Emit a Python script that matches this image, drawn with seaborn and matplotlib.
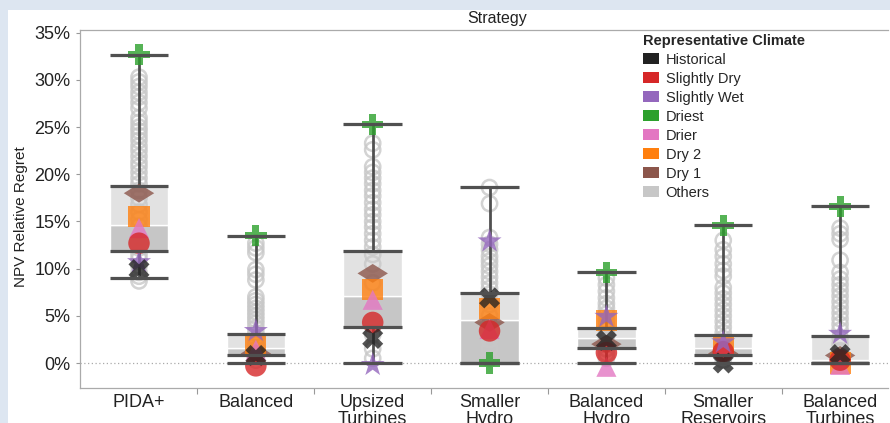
import numpy as np
import pandas as pd
import matplotlib.pyplot as plt
import seaborn as sns
from matplotlib.patches import Patch, Rectangle

# Strategies along the x axis
strategies = ["PIDA+", "Balanced", "Upsized\nTurbines", "Smaller\nHydro",
              "Balanced\nHydro", "Smaller\nReservoirs", "Balanced\nTurbines"]

# Box statistics (NPV relative regret, %)
q1 = [11.9, 0.85, 3.8, 0.0, 1.6, 0.85, 0.0]
median = [14.6, 1.6, 7.1, 4.6, 2.7, 1.6, 0.3]
q3 = [18.8, 3.1, 11.9, 7.4, 3.7, 3.0, 2.9]
whisker_lo = [9.0, 0.0, 0.0, 0.0, 0.0, 0.0, 0.0]
whisker_hi = [32.7, 13.5, 25.3, 18.7, 9.6, 14.6, 16.6]

# Representative climates, one value per strategy
historical = [9.9, 0.8, 2.6, 6.9, 2.4, 0.0, 0.9]
slightly_dry = [12.7, -0.3, 4.3, 3.4, 1.1, 1.2, 0.3]
slightly_wet = [10.7, 3.4, -0.2, 12.9, 4.9, 2.2, 3.1]
driest = [32.7, 13.5, 25.3, 0.0, 9.6, 14.6, 16.6]
drier = [14.3, 1.4, 6.7, 3.6, -0.4, 2.0, -0.2]
dry_2 = [15.5, 1.9, 7.8, 5.8, 4.5, 2.0, 0.0]
dry_1 = [18.0, 1.0, 9.5, 4.3, 2.0, 1.0, 0.8]

# Other climates (open grey circles)
others_pida = [8.7, 9.2, 9.6, 10.3, 11.0, 11.5, 12.2, 13.0, 13.8, 14.5, 15.2, 16.0,
               16.8, 17.5, 18.3, 19.0, 19.6, 20.2, 20.8, 21.3, 21.9, 22.5, 23.0,
               23.6, 24.1, 24.6, 25.0, 25.5, 26.0, 27.0, 27.6, 28.2, 28.7, 29.3,
               29.8, 30.3]
others_balanced = [0.3, 0.8, 1.4, 2.0, 2.6, 3.2, 3.7, 4.2, 4.6, 5.0, 5.4, 5.8, 6.2,
                   6.6, 7.0, 8.8, 9.4, 9.9, 11.7, 12.2, 12.7]
others_upsized = [0.5, 1.5, 3.0, 5.0, 6.0, 8.5, 10.5, 11.5, 12.3, 13.0, 13.7, 14.4,
                  15.0, 15.7, 16.3, 17.0, 17.7, 18.3, 19.0, 19.6, 20.2, 20.8, 22.6,
                  23.3]
others_smaller_hydro = [0.5, 1.5, 2.5, 4.0, 5.0, 6.2, 7.3, 7.9, 8.5, 9.1, 9.7, 10.3,
                        10.8, 11.3, 12.0, 12.6, 13.3, 16.9, 18.6]
others_balanced_hydro = [0.5, 1.0, 1.5, 2.0, 2.5, 3.0, 3.5, 4.0, 4.5, 5.2, 5.8, 6.3,
                         6.9, 7.6, 8.3, 9.0]
others_reservoirs = [0.3, 0.8, 1.3, 2.0, 2.6, 3.2, 3.8, 4.4, 5.0, 5.6, 6.2, 6.8, 7.4,
                     8.0, 9.2, 9.8, 10.5, 11.3, 12.0, 13.0]
others_turbines = [0.3, 0.8, 1.3, 2.0, 2.7, 3.5, 4.1, 4.7, 5.3, 5.9, 6.5, 7.1, 7.7,
                   8.3, 8.9, 9.6, 10.9, 13.1, 13.7, 14.3]

climate_names = ["Historical", "Slightly Dry", "Slightly Wet", "Driest", "Drier",
                 "Dry 2", "Dry 1", "Others"]
climate_colors = ["#222222", "#d62728", "#9467bd", "#2ca02c", "#e377c2", "#ff7f0e",
                  "#8c564b", "#c7c7c7"]
wide_diamond = [(-1, 0), (0, 0.62), (1, 0), (0, -0.62), (-1, 0)]
climate_markers = ["X", "o", "*", "P", "^", "s", wide_diamond]
marker_sizes = [230, 240, 330, 240, 210, 230, 480]

sns.set_theme(style="white")
plt.rcParams['font.family'] = ['Liberation Sans', 'DejaVu Sans']

fig = plt.figure(figsize=(8.9, 4.23), dpi=100)
fig.patch.set_facecolor("#dde6f1")
fig.patches.append(Rectangle((8 / 890, 0), 1, 1 - 10 / 423, transform=fig.transFigure,
                             facecolor="white", edgecolor="none", zorder=-10))
ax = fig.add_axes([80 / 890, 1 - 388 / 423, 808 / 890, 358 / 423])
ax.set_facecolor("none")

pos = np.arange(len(strategies))
box_w = 0.5

# Box: lower half darker, upper half lighter
ax.bar(pos, np.array(median) - np.array(q1), bottom=q1, width=box_w,
       color="#c6c6c6", zorder=1)
ax.bar(pos, np.array(q3) - np.array(median), bottom=median, width=box_w,
       color="#e2e2e2", zorder=1)

# zero line
ax.axhline(0, color="#aaaaaa", lw=0.9, ls=(0, (1, 2)), zorder=0.5)

# Others
others_all = [others_pida, others_balanced, others_upsized, others_smaller_hydro,
              others_balanced_hydro, others_reservoirs, others_turbines]
others_df = pd.DataFrame([(p, v) for p, vals in zip(pos, others_all) for v in vals],
                         columns=["pos", "value"])
sns.scatterplot(data=others_df, x="pos", y="value", marker="o", s=120,
                facecolor="none", edgecolor="#c8c8c8", linewidth=1.8, alpha=0.8,
                legend=False, ax=ax, zorder=2)

# Whiskers, caps and box lines
line_col = "#505050"
ax.vlines(pos, q3, whisker_hi, color=line_col, lw=2, zorder=3)
ax.vlines(pos, whisker_lo, q1, color=line_col, lw=2, zorder=3)
for vals in (whisker_hi, whisker_lo, q1, q3):
    ax.hlines(vals, pos - box_w / 2, pos + box_w / 2, color=line_col, lw=2.3, zorder=5)

# Representative climates (drawn bottom to top)
rep_values = [historical, slightly_dry, slightly_wet, driest, drier, dry_2, dry_1]
draw_order = [6, 5, 4, 1, 2, 0, 3]
for k, i in enumerate(draw_order):
    df = pd.DataFrame({"pos": pos, "value": rep_values[i]})
    sns.scatterplot(data=df, x="pos", y="value", marker=climate_markers[i],
                    s=marker_sizes[i], color=climate_colors[i], edgecolor="none",
                    linewidth=0, alpha=0.78 if i == 0 else 0.8, legend=False, ax=ax,
                    zorder=4 + k * 0.01)

ax.set_xlim(-0.505, 6.41)
ax.set_ylim(-2.65, 35.3)
ax.set_yticks(range(0, 36, 5))
ax.set_yticklabels([f"{v}%" for v in range(0, 36, 5)], fontsize=13)
ax.set_xticks(pos)
ax.set_xticklabels(strategies, fontsize=13, linespacing=1.0)
ax.set_xticks(pos[:-1] + 0.5, minor=True)
ax.tick_params(axis="x", which="major", length=0, pad=4, colors="#222222")
ax.tick_params(axis="x", which="minor", length=4, width=0.8, color="#999999", bottom=True)
ax.tick_params(axis="y", length=3, width=0.8, color="#999999", pad=4, left=True,
               colors="#222222")
ax.tick_params(axis="y", color="#999999")
ax.set_xlabel("")
ax.set_ylabel("")
fig.text(21 / 890, 1 - 217 / 423, "NPV Relative Regret", rotation=90, fontsize=11,
         ha="center", va="center", color="#222222")
fig.text(497 / 890, 1 - 18 / 423, "Strategy", fontsize=11.5, ha="center", va="center",
         color="#222222")

for side in ["left", "bottom", "top"]:
    ax.spines[side].set_color("#aaaaaa")
    ax.spines[side].set_linewidth(0.9)
ax.spines["right"].set_visible(False)

handles = [Patch(facecolor=c, edgecolor="none", label=n)
           for n, c in zip(climate_names, climate_colors)]
leg = ax.legend(handles=handles, title="Representative Climate", loc="upper left",
                bbox_to_anchor=(643 / 890, 1 - 34 / 423), bbox_transform=fig.transFigure,
                frameon=False, fontsize=10.5, handlelength=1.1, handleheight=0.8,
                handletextpad=0.45, labelspacing=0.34, borderpad=0, borderaxespad=0,
                alignment="left", title_fontproperties={"weight": "bold", "size": 10.5})
leg.set_zorder(10)

fig.savefig("out.png", dpi=100, facecolor=fig.get_facecolor())
